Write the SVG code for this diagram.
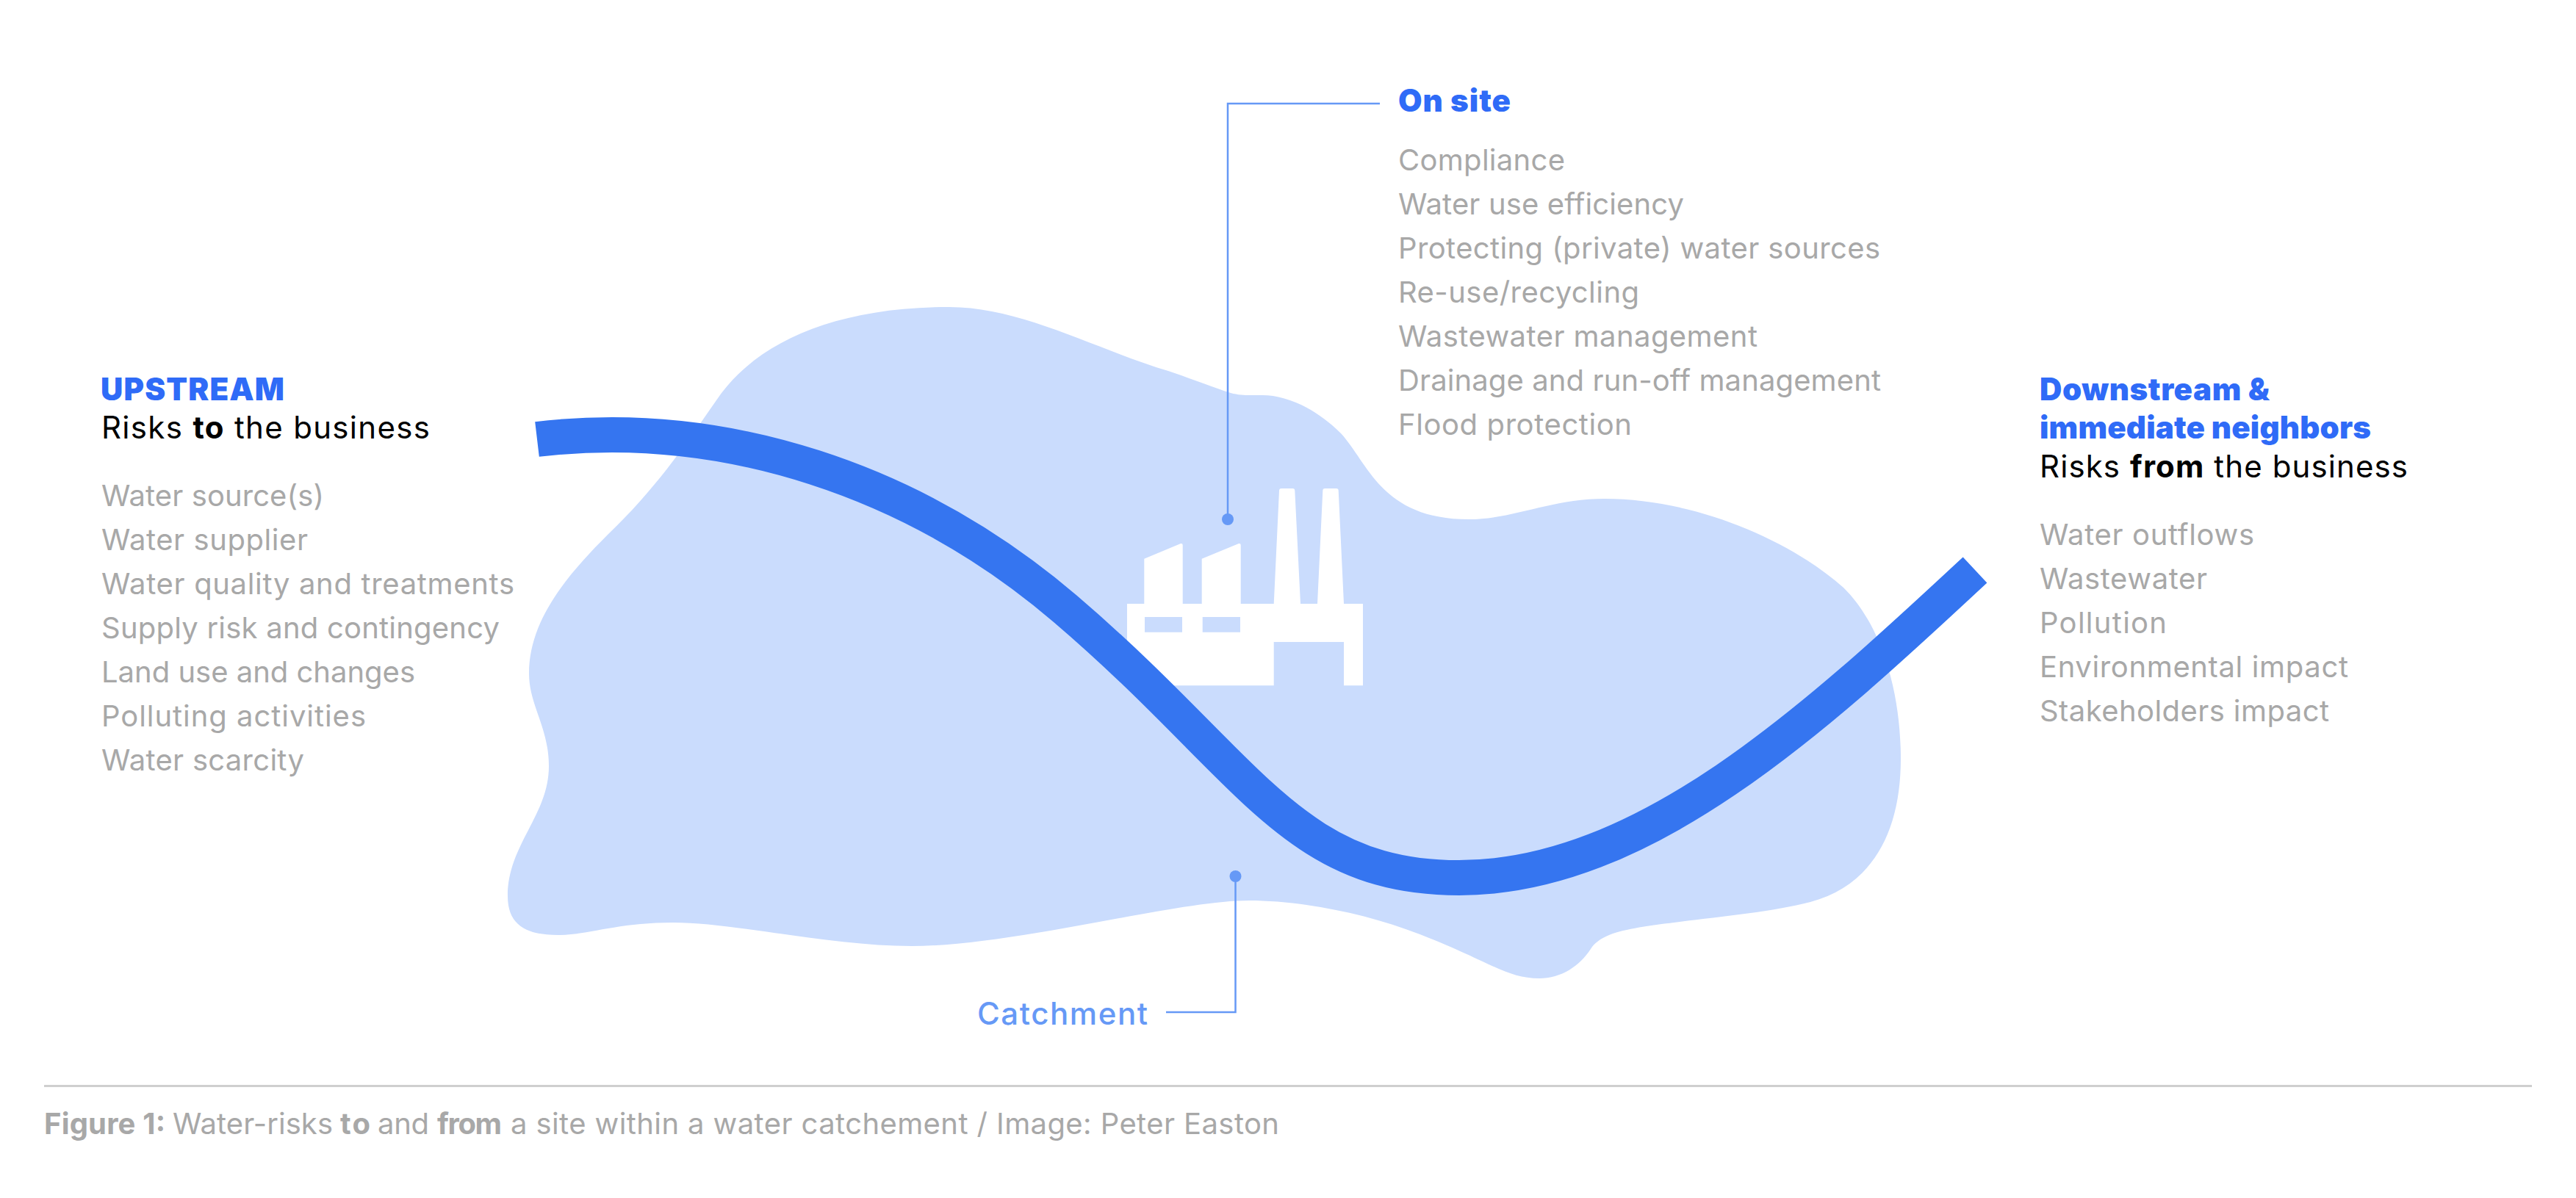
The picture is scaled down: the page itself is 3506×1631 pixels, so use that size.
<svg xmlns="http://www.w3.org/2000/svg" width="3506" height="1631" viewBox="0 0 3506 1631">
<style>
text{font-family:Inter,"Noto Sans",sans-serif}
.h{font-size:42px;font-weight:900;fill:#2f6bf7}
.k{font-size:42px;fill:#000}
.l{font-size:40px;fill:#a8a8a8}
.c{font-size:40px;fill:#a8a8a8}
.lead{fill:none;stroke:#6699f6;stroke-width:2.5}
.dot{fill:#6699f6}
.b{font-weight:700}
</style>
<rect width="3506" height="1631" fill="#fff"/>
<g id="catchment">
<path fill="#cadcfd" d="M1292 418C1390 418 1490 475 1590 505C1620 515 1650 527 1675 535C1690 539 1700 538 1718 538C1750 538 1790 555 1825 590C1862 630 1880 707 1999 707C2060 707 2110 679 2184 679C2300 679 2430 730 2509 800C2560 850 2587 940 2587 1033C2587 1130 2550 1205 2464 1228C2380 1250 2230 1255 2190 1273C2178 1278 2170 1284 2165 1292C2150 1315 2125 1332 2095 1332C2050 1332 2030 1310 1935 1273C1860 1243 1770 1226 1700 1226C1600 1226 1380 1288 1241 1288C1130 1288 1000 1256 916 1256C840 1256 800 1273 760 1273C720 1273 691 1262 691 1220C691 1150 747 1110 747 1043C747 990 720 960 720 917C720 845 770 785 827 728C890 668 930 610 975 545C1025 470 1130 418 1292 418Z"/>
</g>
<g id="factory" fill="#fff">
<path fill-rule="evenodd" d="M1534 822H1557.300V760.700L1607 740Q1609.700 739.500 1609.700 742V822H1635.700V760.700L1686 740Q1688.700 739.500 1688.700 742V822H1733.700L1741 668Q1741 665 1744 665H1759.300Q1762.300 665 1762.300 668L1770 822H1793L1800.300 668Q1800.300 665 1803.300 665H1818.700Q1821.700 665 1821.700 668L1829 822H1855V933.300H1829V874H1733.700V933.300H1534ZM1558 840V860.700H1609V840ZM1636.700 840V860.700H1688V840Z"/>
</g>
<g id="river">
<path fill="none" stroke="#3575f0" stroke-width="48" d="M731 598C985 568 1245 653.500 1450 829C1701 1043.500 1756 1195 1986 1195C2236 1195 2469 980 2688 776"/>
</g>
<g id="connectors">
<path class="lead" d="M1878 141H1671V707"/>
<circle class="dot" cx="1671" cy="707" r="8"/>
<path class="lead" d="M1587 1378H1681.500V1193"/>
<circle class="dot" cx="1681.500" cy="1193" r="8"/>
</g>
<g id="upstream">
<text class="h" x="137" y="545" textLength="250">UPSTREAM</text>
<text class="k" x="138" y="597" textLength="447">Risks <tspan class="b">to</tspan> the business</text>
<text class="l" x="138" y="689" textLength="303">Water source(s)</text>
<text class="l" x="138" y="749" textLength="281">Water supplier</text>
<text class="l" x="138" y="809" textLength="562">Water quality and treatments</text>
<text class="l" x="138" y="869" textLength="542">Supply risk and contingency</text>
<text class="l" x="138" y="929" textLength="427">Land use and changes</text>
<text class="l" x="138" y="989" textLength="360">Polluting activities</text>
<text class="l" x="138" y="1049" textLength="276">Water scarcity</text>
</g>
<g id="on-site">
<text class="h" x="1903" y="152" textLength="153">On site</text>
<text class="l" x="1903" y="232" textLength="227">Compliance</text>
<text class="l" x="1903" y="292" textLength="389">Water use efficiency</text>
<text class="l" x="1903" y="352" textLength="656">Protecting (private) water sources</text>
<text class="l" x="1903" y="412" textLength="328">Re-use/recycling</text>
<text class="l" x="1903" y="472" textLength="489">Wastewater management</text>
<text class="l" x="1903" y="532" textLength="657">Drainage and run-off management</text>
<text class="l" x="1903" y="592" textLength="318">Flood protection</text>
</g>
<g id="downstream">
<text class="h" x="2776" y="545" textLength="313">Downstream &amp;</text>
<text class="h" x="2776" y="597" textLength="451">immediate neighbors</text>
<text class="k" x="2776" y="650" textLength="501">Risks <tspan class="b">from</tspan> the business</text>
<text class="l" x="2776" y="742" textLength="292">Water outflows</text>
<text class="l" x="2776" y="802" textLength="228">Wastewater</text>
<text class="l" x="2776" y="862" textLength="173">Pollution</text>
<text class="l" x="2776" y="922" textLength="420">Environmental impact</text>
<text class="l" x="2776" y="982" textLength="394">Stakeholders impact</text>
</g>
<g id="catchment-label">
<text x="1330" y="1395" font-size="42" font-weight="500" fill="#6699f6" textLength="232">Catchment</text>
</g>
<g id="caption">
<rect x="60" y="1477" width="3386" height="3" fill="#cfcfcf"/>
<text class="c" y="1544"><tspan class="b" x="60" textLength="165">Figure 1:</tspan> <tspan x="235" textLength="218">Water-risks</tspan> <tspan class="b" x="463" textLength="41">to</tspan> <tspan x="514" textLength="70">and</tspan> <tspan class="b" x="595" textLength="88">from</tspan> <tspan x="695" textLength="1046">a site within a water catchement / Image: Peter Easton</tspan></text>
</g>
</svg>
